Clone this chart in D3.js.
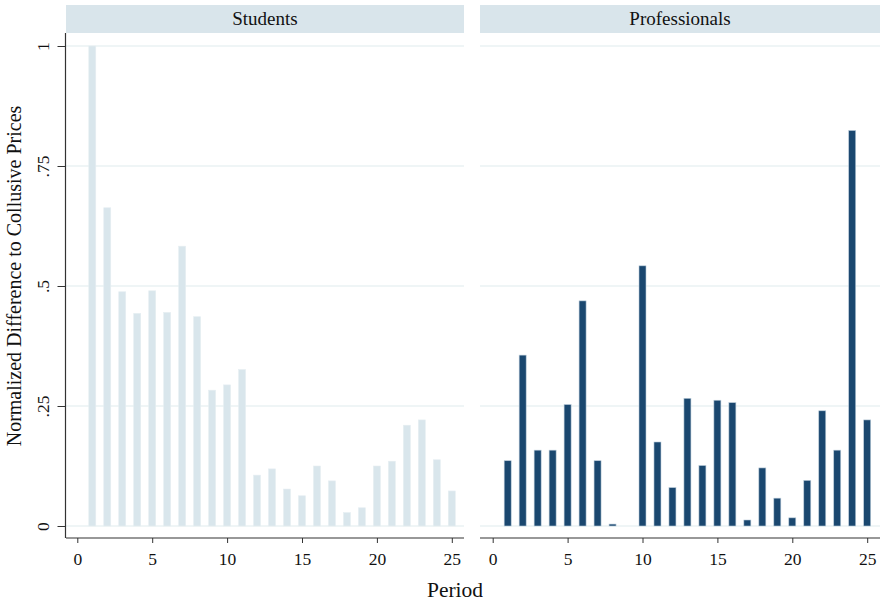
<!DOCTYPE html>
<html>
<head>
<meta charset="utf-8">
<script src="https://cdn.jsdelivr.net/npm/d3@7"></script>
<style>
  body { margin: 0; background: #fff; }
  svg { display: block; }
  text { font-family: "Liberation Serif", "DejaVu Serif", serif; fill: #111; }
</style>
</head>
<body>
<svg id="chart" width="880" height="601"></svg>
<script>
const periods = d3.range(1, 26);
const students = [1.0, 0.663, 0.488, 0.443, 0.490, 0.445, 0.583, 0.436, 0.283, 0.294,
  0.326, 0.106, 0.119, 0.077, 0.063, 0.125, 0.094, 0.028, 0.038, 0.125,
  0.135, 0.210, 0.221, 0.138, 0.073];
const professionals = [0.136, 0.356, 0.158, 0.158, 0.253, 0.469, 0.136, 0.004, 0.0, 0.542,
  0.175, 0.080, 0.266, 0.126, 0.262, 0.257, 0.0125, 0.121, 0.058, 0.017,
  0.095, 0.240, 0.158, 0.824, 0.221];
const xTicks = [0, 5, 10, 15, 20, 25];
const yTicks = [0, 0.25, 0.5, 0.75, 1];
const yTickLabels = ["0", ".25", ".5", ".75", "1"];
const panelTitles = ["Students", "Professionals"];

const svg = d3.select("#chart");
const panels = [
  { title: panelTitles[0], data: students, left: 66, right: 464, x0: 77.3, fill: "#d9e6ec", stroke: "#e6eef2", yAxis: true },
  { title: panelTitles[1], data: professionals, left: 480, right: 880, x0: 492.7, fill: "#1a476f", stroke: "#b9cbd9", yAxis: false }
];
const plotTop = 33, axisY = 538;
const y = d3.scaleLinear().domain([0, 1]).range([526, 46]);
const barW = 7;
const serif = "Liberation Serif, DejaVu Serif, serif";

panels.forEach(p => {
  const x = d3.scaleLinear().domain([0, 25]).range([p.x0, p.x0 + 374.5]);
  const g = svg.append("g");
  // header strip
  g.append("rect").attr("x", p.left).attr("y", 5).attr("width", p.right - p.left).attr("height", 28)
    .attr("fill", "#d9e5eb");
  g.append("text").attr("x", (p.left + p.right) / 2).attr("y", 25)
    .attr("text-anchor", "middle").attr("font-size", 19).text(p.title);
  // gridlines
  g.selectAll("line.grid").data(yTicks).join("line").attr("class", "grid")
    .attr("x1", p.left).attr("x2", p.right)
    .attr("y1", d => y(d)).attr("y2", d => y(d))
    .attr("stroke", "#eaf2f3").attr("stroke-width", 1.5);
  // bars
  g.selectAll("rect.bar").data(p.data.map((v, i) => ({ v, t: periods[i] })).filter(d => d.v > 0))
    .join("rect").attr("class", "bar")
    .attr("x", d => x(d.t) - barW / 2).attr("width", barW)
    .attr("y", d => y(d.v)).attr("height", d => y(0) - y(d.v))
    .attr("fill", p.fill).attr("stroke", p.stroke).attr("stroke-width", 0.6);
  // x axis
  const xa = g.append("g").attr("transform", `translate(0,${axisY})`)
    .call(d3.axisBottom(x).tickValues(xTicks).tickSize(5).tickPadding(10));
  xa.select(".domain").remove();
  xa.append("line").attr("x1", p.left).attr("x2", p.right).attr("y1", 0).attr("y2", 0)
    .attr("stroke", "#333").attr("stroke-width", 1.2);
  xa.selectAll(".tick line").attr("stroke", "#333");
  xa.selectAll(".tick text").attr("font-size", 17.5).attr("fill", "#111")
    .attr("font-family", serif);
  if (p.yAxis) {
    const ya = g.append("g").attr("transform", `translate(${p.left - 0.5},0)`)
      .call(d3.axisLeft(y).tickValues(yTicks).tickFormat((d, i) => yTickLabels[i]).tickSize(8).tickPadding(0));
    ya.select(".domain").remove();
    ya.append("line").attr("x1", 0).attr("x2", 0).attr("y1", plotTop).attr("y2", axisY)
      .attr("stroke", "#333").attr("stroke-width", 1.2);
    ya.selectAll(".tick line").attr("stroke", "#333");
    ya.selectAll(".tick text").attr("font-size", 17.5).attr("fill", "#111")
      .attr("font-family", serif)
      .attr("text-anchor", "middle").attr("dy", 0)
      .attr("transform", "translate(-23,0) rotate(-90)").attr("x", 0).attr("y", 6);
  }
});

svg.append("text").attr("x", 455).attr("y", 597).attr("text-anchor", "middle")
  .attr("font-size", 21.5).text("Period");
svg.append("text").attr("transform", "translate(21,276) rotate(-90)")
  .attr("text-anchor", "middle").attr("font-size", 20)
  .text("Normalized Difference to Collusive Prices");
</script>
</body>
</html>
